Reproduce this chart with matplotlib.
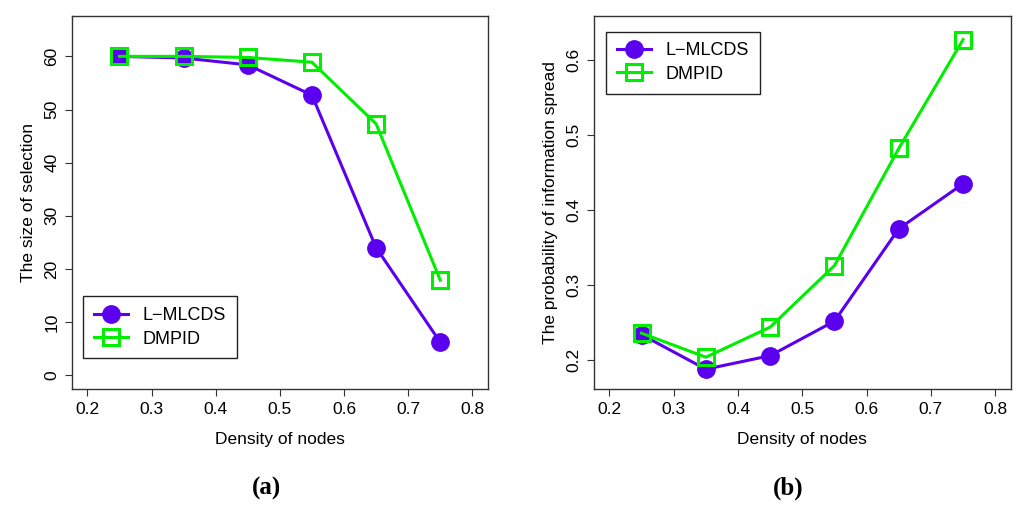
import matplotlib
matplotlib.use("Agg")
import matplotlib.pyplot as plt

# data
density = [0.25, 0.35, 0.45, 0.55, 0.65, 0.75]
size_lmlcds = [60.0, 59.7, 58.4, 52.7, 24.0, 6.2]
size_dmpid = [60.0, 60.0, 59.8, 58.9, 47.3, 17.9]
prob_lmlcds = [0.234, 0.188, 0.206, 0.252, 0.375, 0.435]
prob_dmpid = [0.236, 0.204, 0.244, 0.326, 0.482, 0.627]

xticks = [0.2, 0.3, 0.4, 0.5, 0.6, 0.7, 0.8]
purple = '#5A00EE'
green = '#00EE00'

plt.rcParams['font.family'] = ['Liberation Sans', 'DejaVu Sans']

fig = plt.figure(figsize=(10.24, 5.11), dpi=100)
ax1 = fig.add_axes([0.0703, 0.2387, 0.406, 0.730])
ax2 = fig.add_axes([0.580, 0.2387, 0.407, 0.730])


def draw(ax, y1, y2, ylim, yticks, ylabel, legend_loc):
    ax.plot(density, y1, color=purple, lw=2.2, marker='o', ms=12.5,
            mfc=purple, mec=purple, label='L\u2212MLCDS')
    ax.plot(density, y2, color=green, lw=2.2, marker='s', ms=12,
            mfc='none', mec=green, mew=2.2, label='DMPID')
    ax.set_xlim(0.176, 0.824)
    ax.set_ylim(*ylim)
    ax.set_xticks(xticks)
    ax.set_xticklabels([f'{t:.1f}' for t in xticks])
    ax.set_yticks(yticks)
    ax.set_yticklabels([f'{t:g}' for t in yticks], rotation=90, va='center')
    ax.tick_params(labelsize=12.5, length=5, width=0.8, color='#333333', pad=4)
    for s in ax.spines.values():
        s.set_linewidth(1.0)
        s.set_color('#333333')
    ax.set_xlabel('Density of nodes', fontsize=12.5, labelpad=11)
    ax.set_ylabel(ylabel, fontsize=12.5, labelpad=6)
    leg = ax.legend(loc='center', bbox_to_anchor=legend_loc, fontsize=13,
                    fancybox=False, edgecolor='#222222', framealpha=1,
                    borderpad=0.6, handlelength=1.9, labelspacing=0.35,
                    handletextpad=0.8, borderaxespad=0)
    leg.get_frame().set_linewidth(1.0)


draw(ax1, size_lmlcds, size_dmpid, (-2.6, 67.6), [0, 10, 20, 30, 40, 50, 60],
     'The size of selection', (0.2115, 0.165))
draw(ax2, prob_lmlcds, prob_dmpid, (0.1616, 0.6584), [0.2, 0.3, 0.4, 0.5, 0.6],
     'The probability of information spread', (0.213, 0.875))

fig.text(0.260, 0.045, '(a)', fontsize=18, fontweight='bold',
         family='Liberation Serif', ha='center', va='center')
fig.text(0.770, 0.045, '(b)', fontsize=18, fontweight='bold',
         family='Liberation Serif', ha='center', va='center')

fig.savefig('out.png', dpi=100)
